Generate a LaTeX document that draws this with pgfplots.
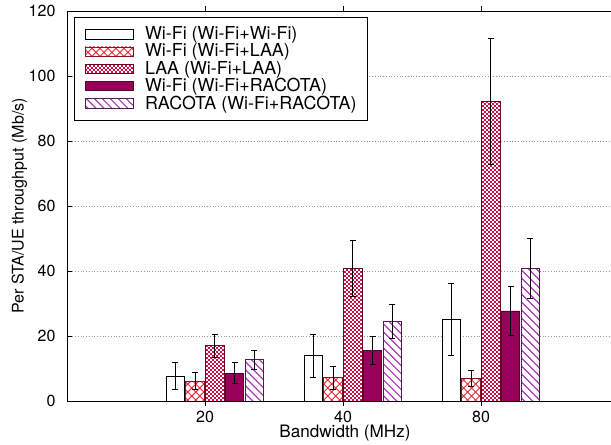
\documentclass[border=0pt]{standalone}
\usepackage{fontspec}
\setmainfont{TeX Gyre Heros}
\usepackage{pgfplots}
\pgfplotsset{compat=1.18}
\usetikzlibrary{patterns,patterns.meta}

\definecolor{crossred}{RGB}{238,40,55}
\definecolor{laa}{RGB}{210,12,68}
\definecolor{wfr}{RGB}{153,0,90}
\definecolor{racota}{RGB}{170,60,180}

\tikzdeclarepattern{
  name=whitecheck,
  type=uncolored,
  bounding box={(0pt,0pt) and (2.6pt,2.6pt)},
  tile size={(2.6pt,2.6pt)},
  code={
    \fill (0.05pt,0.05pt) rectangle (1.2pt,1.2pt);
    \fill (1.35pt,1.35pt) rectangle (2.5pt,2.5pt);
  }
}

\begin{document}
\begin{tikzpicture}
\begin{axis}[
  scale only axis,
  width=360pt, height=255.3pt,
  xmin=0, xmax=3.985, ymin=0, ymax=120,
  xtick={1,2,3}, xticklabels={20,40,80},
  ytick={0,20,40,60,80,100,120},
  xtick pos=both, ytick pos=left,
  tick align=inside,
  major tick length=3pt,
  ymajorgrids,
  grid style={gray!80, line width=0.5pt, dash pattern=on 0.6pt off 1.2pt},
  axis line style={line width=0.6pt},
  tick style={line width=0.6pt, black},
  /pgf/number format/assume math mode=true,
  tick label style={font=\fontsize{10.5}{12}\selectfont},
  yticklabel style={xshift=-4pt},
  xticklabel style={inner sep=1.5pt, yshift=-2pt},
  xlabel={Bandwidth (MHz)},
  ylabel={Per STA/UE throughput (Mb/s)},
  every axis x label/.style={at={(axis description cs:0.5055,0)}, anchor=base, yshift=-24pt, inner sep=1pt, font=\fontsize{11.2}{13}\selectfont},
  every axis y label/.style={at={(axis description cs:-0.0867,0.5)}, anchor=center, rotate=90, font=\fontsize{10.5}{12}\selectfont},
  ybar, bar width=0.134,
  every axis plot/.append style={bar shift=0pt, line width=0.6pt},
  error bars/y dir=both, error bars/y explicit,
  error bars/error bar style={black, line width=0.6pt, solid},
  error bars/error mark options={rotate=90, mark size=2pt, black, line width=0.6pt, solid},
  legend cell align=left,
  legend style={at={(0.0128,0.9847)}, anchor=north west, draw=black, line width=0.6pt,
    fill=white, inner xsep=6.8pt, inner ysep=5.5pt, row sep=0pt, column sep=6.8pt,
    nodes={inner sep=0.6pt},
    font=\fontsize{11.7}{13}\selectfont},
  legend image code/.code={\draw[#1] (0pt,-3pt) rectangle (31.4pt,3pt);},
]
\addplot[draw=black, fill=white]
  table[x=x, y=y, y error=e] {
x y e
0.785 7.7 4.1
1.785 13.9 6.6
2.785 25.1 11.05
};
\addlegendentry{Wi-Fi (Wi-Fi+Wi-Fi)}

\addplot[draw=crossred!55!black, fill=white,
  postaction={pattern={Hatch[angle=45, distance=3.7pt, line width=0.6pt]}, pattern color=crossred}]
  table[x=x, y=y, y error=e] {
x y e
0.928 6.1 2.65
1.928 7.2 3.5
2.928 7.0 2.55
};
\addlegendentry{Wi-Fi (Wi-Fi+LAA)}

\addplot[draw=laa!50!black, fill=laa,
  postaction={pattern=whitecheck, pattern color=white}]
  table[x=x, y=y, y error=e] {
x y e
1.072 17.0 3.6
2.072 40.8 8.6
3.072 92.1 19.3
};
\addlegendentry{LAA (Wi-Fi+LAA)}

\addplot[draw=wfr!55!black, fill=wfr]
  table[x=x, y=y, y error=e] {
x y e
1.215 8.6 3.2
2.215 15.6 4.4
3.215 27.7 7.4
};
\addlegendentry{Wi-Fi (Wi-Fi+RACOTA)}

\addplot[draw=racota!45!black, fill=white,
  postaction={pattern={Lines[angle=-45, distance=3.7pt, line width=0.8pt]}, pattern color=racota}]
  table[x=x, y=y, y error=e] {
x y e
1.358 12.7 2.9
2.358 24.4 5.3
3.358 40.7 9.3
};
\addlegendentry{RACOTA (Wi-Fi+RACOTA)}
\end{axis}
\pgfresetboundingbox
\path[use as bounding box] ([xshift=-43.86pt,yshift=-28.15pt]current axis.south west) rectangle ([xshift=356.1pt,yshift=262.5pt]current axis.south west);
\end{tikzpicture}
\end{document}
